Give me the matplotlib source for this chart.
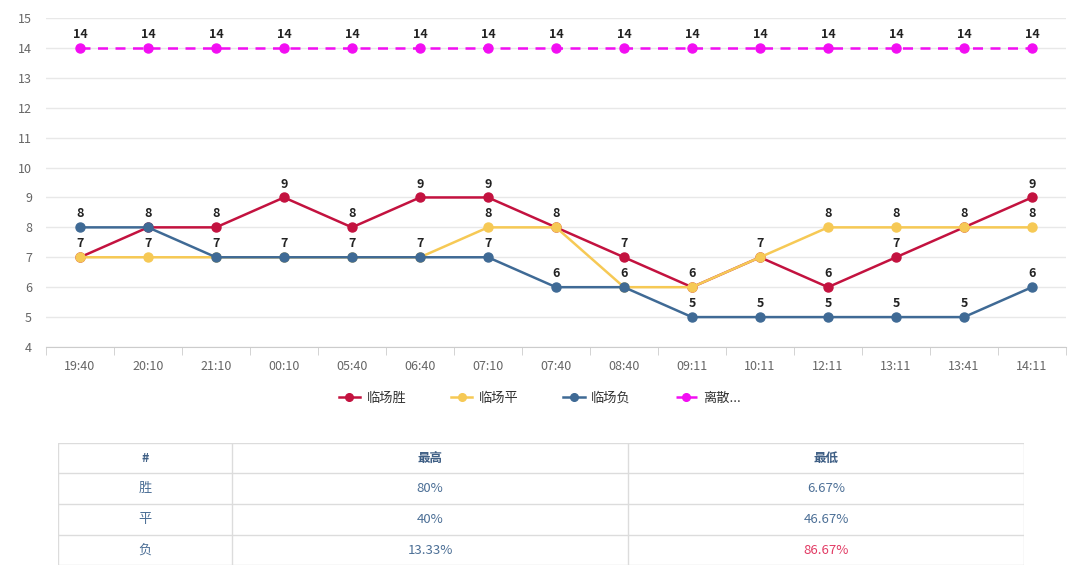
import matplotlib
matplotlib.use("Agg")
import matplotlib.pyplot as plt
from matplotlib.lines import Line2D

plt.rcParams['font.family'] = ['Noto Sans CJK SC', 'DejaVu Sans']

# data
times = ["19:40", "20:10", "21:10", "00:10", "05:40", "06:40", "07:10", "07:40",
         "08:40", "09:11", "10:11", "12:11", "13:11", "13:41", "14:11"]
win = [7, 8, 8, 9, 8, 9, 9, 8, 7, 6, 7, 6, 7, 8, 9]
draw = [7, 7, 7, 7, 7, 7, 8, 8, 6, 6, 7, 8, 8, 8, 8]
loss = [8, 8, 7, 7, 7, 7, 7, 6, 6, 5, 5, 5, 5, 5, 6]
spread = [14] * 15
series_names = ["临场胜", "临场平", "临场负", "离散..."]

table_header = ["#", "最高", "最低"]
table_rows = [["胜", "80%", "6.67%"],
              ["平", "40%", "46.67%"],
              ["负", "13.33%", "86.67%"]]

colors = ["#c3123f", "#f6c955", "#3f6a95", "#f20ef2"]

W, H = 1080, 567
fig = plt.figure(figsize=(W / 100, H / 100), dpi=100)


def px_axes(left, top, right, bottom):
    return fig.add_axes([left / W, 1 - bottom / H, (right - left) / W, (bottom - top) / H])


ax = px_axes(46, 18, 1066, 347)
x = list(range(len(times)))

labelled = set()
for i, (vals, c) in enumerate(zip([win, draw, loss, spread], colors)):
    if i == 3:
        ax.plot(x, vals, color=c, lw=1.8, ls="--", dashes=(4, 3), marker="o", ms=6.5, zorder=3 + i)
    else:
        ax.plot(x, vals, color=c, lw=1.8, marker="o", ms=6.5, zorder=3 + i)
    for xi, v in zip(x, vals):
        # labels of overlapping points sit on top of each other, draw once
        if (xi, v) in labelled:
            continue
        labelled.add((xi, v))
        ax.annotate(str(v), (xi, v), xytext=(0, 5), textcoords="offset points",
                    ha="center", va="bottom", fontsize=9, fontweight="bold",
                    color="#222222", zorder=10)

ax.set_xlim(-0.5, len(times) - 0.5)
ax.set_ylim(4, 15)
ax.set_yticks(range(4, 16))
ax.set_xticks(x)
ax.set_xticklabels(times)
ax.set_xticks([i - 0.5 for i in range(len(times) + 1)], minor=True)
ax.tick_params(axis="x", which="major", length=0, pad=9, labelsize=9, labelcolor="#666666")
ax.tick_params(axis="x", which="minor", length=6, color="#cccccc")
ax.tick_params(axis="y", length=0, pad=10, labelsize=9, labelcolor="#666666")
ax.grid(axis="y", color="#e8e8e8", lw=1)
ax.set_axisbelow(True)
for s in ["top", "right", "left"]:
    ax.spines[s].set_visible(False)
ax.spines["bottom"].set_color("#cccccc")

handles = []
for i, c in enumerate(colors):
    handles.append(Line2D([], [], color=c, lw=1.8, ls="--" if i == 3 else "-",
                          marker="o", ms=5.5))
fig.legend(handles, series_names, loc="center", bbox_to_anchor=(540 / W, 1 - 398 / H),
           ncol=4, frameon=False, fontsize=9.5, handlelength=1.6, columnspacing=3.4,
           handletextpad=0.5, labelcolor="#333333")

# table
tx = px_axes(58, 443, 1024, 565)
tx.set_xlim(58, 1024)
tx.set_ylim(565, 443)
tx.axis("off")
col_edges = [58, 232, 628, 1024]
row_edges = [443, 473, 504, 535, 565]
line_c = "#dcdcdc"
for yy in row_edges:
    tx.plot([58, 1024], [yy, yy], color=line_c, lw=1)
for xx in col_edges:
    tx.plot([xx, xx], [443, 565], color=line_c, lw=1)
for j, t in enumerate(table_header):
    tx.text((col_edges[j] + col_edges[j + 1]) / 2, (row_edges[0] + row_edges[1]) / 2, t,
            ha="center", va="center", fontsize=9, fontweight="bold", color="#3f5f85")
for r, row in enumerate(table_rows):
    for j, t in enumerate(row):
        c = "#e23b64" if (r == 2 and j == 2) else "#4c6f96"
        tx.text((col_edges[j] + col_edges[j + 1]) / 2, (row_edges[r + 1] + row_edges[r + 2]) / 2, t,
                ha="center", va="center", fontsize=9.5, color=c)

fig.savefig("out.png", dpi=100)
